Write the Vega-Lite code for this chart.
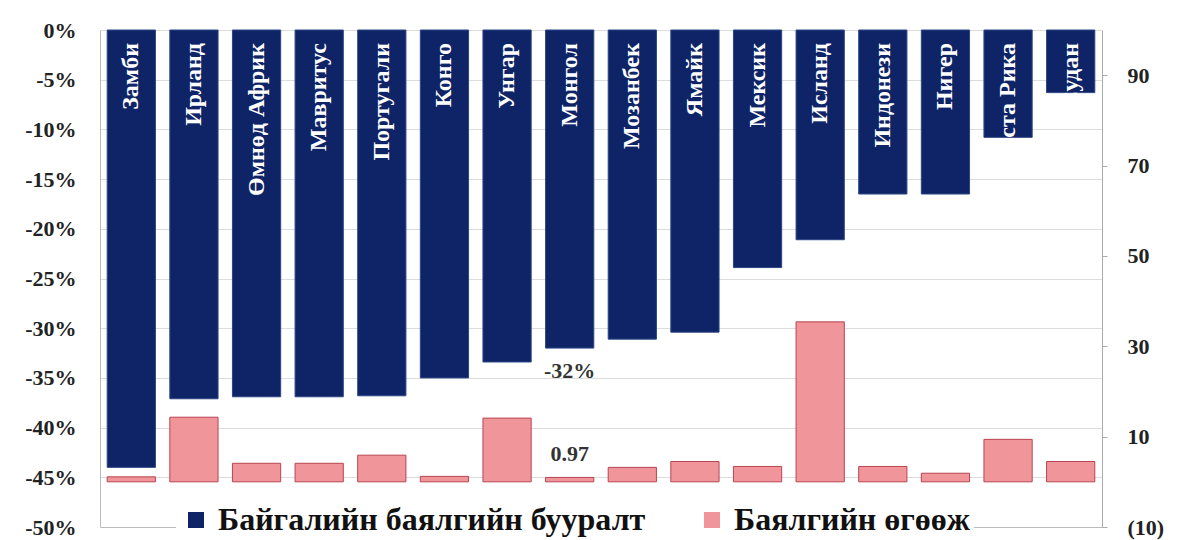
{
  "$schema": "https://vega.github.io/schema/vega-lite/v6.json",
  "width": 1002,
  "height": 497,
  "autosize": {"type": "none"},
  "padding": {"left": 100, "top": 30, "right": 88, "bottom": 13},
  "background": "white",
  "config": {"view": {"stroke": null}},
  "data": {
    "values": [
      {"country": "Замби", "loss": -0.44, "ret": 1.1},
      {"country": "Ирланд", "loss": -0.371, "ret": 14.3},
      {"country": "Өмнөд Африк", "loss": -0.369, "ret": 4.1},
      {"country": "Мавритус", "loss": -0.369, "ret": 4.1},
      {"country": "Португали", "loss": -0.368, "ret": 5.9},
      {"country": "Конго", "loss": -0.35, "ret": 1.2},
      {"country": "Унгар", "loss": -0.334, "ret": 14.1},
      {"country": "Монгол", "loss": -0.32, "ret": 0.97, "lossLabel": "-32%", "retLabel": "0.97"},
      {"country": "Мозанбек", "loss": -0.311, "ret": 3.2},
      {"country": "Ямайк", "loss": -0.304, "ret": 4.5},
      {"country": "Мексик", "loss": -0.239, "ret": 3.4},
      {"country": "Исланд", "loss": -0.211, "ret": 35.4},
      {"country": "Индонези", "loss": -0.165, "ret": 3.4},
      {"country": "Нигер", "loss": -0.165, "ret": 1.9},
      {"country": "Коста Рика", "loss": -0.108, "ret": 9.4},
      {"country": "Судан", "loss": -0.063, "ret": 4.5}
    ]
  },
  "encoding": {
    "x": {
      "field": "country",
      "type": "nominal",
      "sort": null,
      "scale": {"paddingInner": 0.23, "paddingOuter": 0.115},
      "axis": {"title": null, "labels": false, "ticks": false, "domain": true, "domainColor": "#bbbbbb", "orient": "bottom"}
    }
  },
  "layer": [
    {
      "encoding": {
        "y": {
          "field": "loss",
          "type": "quantitative",
          "scale": {"domain": [-0.5, 0], "nice": false},
          "axis": {
            "orient": "left",
            "title": null,
            "values": [0, -0.05, -0.1, -0.15, -0.2, -0.25, -0.3, -0.35, -0.4, -0.45, -0.5],
            "labelExpr": "(datum.value < 0 ? '-' : '') + format(abs(datum.value) * 100, '.0f') + '%'",
            "grid": true,
            "gridColor": "#dcdcdc",
            "domainColor": "#bbbbbb",
            "ticks": false,
            "labelPadding": 24,
            "labelFont": "Liberation Serif",
            "labelFontWeight": "bold",
            "labelFontSize": 22,
            "labelColor": "#222222"
          }
        }
      },
      "layer": [
        {
          "mark": {"type": "bar", "stroke": "#2b4685", "strokeWidth": 1},
          "encoding": {
            "color": {
              "datum": "Байгалийн баялгийн бууралт",
              "type": "nominal",
              "scale": {"domain": ["Байгалийн баялгийн бууралт", "Баялгийн өгөөж"], "range": ["#0f2466", "#f0959a"]},
              "legend": {
                "orient": "none",
                "legendX": 76,
                "legendY": 470,
                "direction": "horizontal",
                "title": null,
                "symbolType": "square",
                "symbolSize": 256,
                "symbolStrokeWidth": 0,
                "labelFont": "Liberation Serif",
                "labelFontWeight": "bold",
                "labelFontSize": 32,
                "labelColor": "#111111",
                "labelOffset": 6,
                "labelLimit": 700,
                "columnPadding": 50,
                "fillColor": "white",
                "padding": 4
              }
            }
          }
        },
        {
          "mark": {"type": "text", "angle": 270, "align": "right", "baseline": "middle", "dx": -13, "font": "Liberation Serif", "fontWeight": "bold", "fontSize": 24, "color": "white"},
          "encoding": {
            "y": {"datum": 0, "type": "quantitative"},
            "text": {"field": "country"}
          }
        },
        {
          "transform": [{"filter": "datum.lossLabel"}],
          "mark": {"type": "text", "baseline": "middle", "dy": 23, "font": "Liberation Serif", "fontWeight": "bold", "fontSize": 22, "color": "#333333"},
          "encoding": {"text": {"field": "lossLabel"}}
        }
      ]
    },
    {
      "encoding": {
        "y": {
          "field": "ret",
          "type": "quantitative",
          "scale": {"domain": [-10, 100], "nice": false},
          "axis": {
            "orient": "right",
            "title": null,
            "values": [-10, 10, 30, 50, 70, 90],
            "labelExpr": "datum.value < 0 ? '(' + format(-datum.value, 'd') + ')' : format(datum.value, 'd')",
            "grid": false,
            "domainColor": "#aaaaaa",
            "tickColor": "#aaaaaa",
            "tickSize": 5,
            "labelPadding": 20,
            "labelFont": "Liberation Serif",
            "labelFontWeight": "bold",
            "labelFontSize": 22,
            "labelColor": "#222222"
          }
        }
      },
      "layer": [
        {
          "mark": {"type": "bar", "stroke": "#b84450", "strokeWidth": 1},
          "encoding": {
            "color": {"datum": "Баялгийн өгөөж", "type": "nominal"}
          }
        },
        {
          "transform": [{"filter": "datum.retLabel"}],
          "mark": {"type": "text", "baseline": "middle", "dy": -23, "font": "Liberation Serif", "fontWeight": "bold", "fontSize": 22, "color": "#333333"},
          "encoding": {"text": {"field": "retLabel"}}
        }
      ]
    }
  ],
  "resolve": {"scale": {"y": "independent"}}
}
